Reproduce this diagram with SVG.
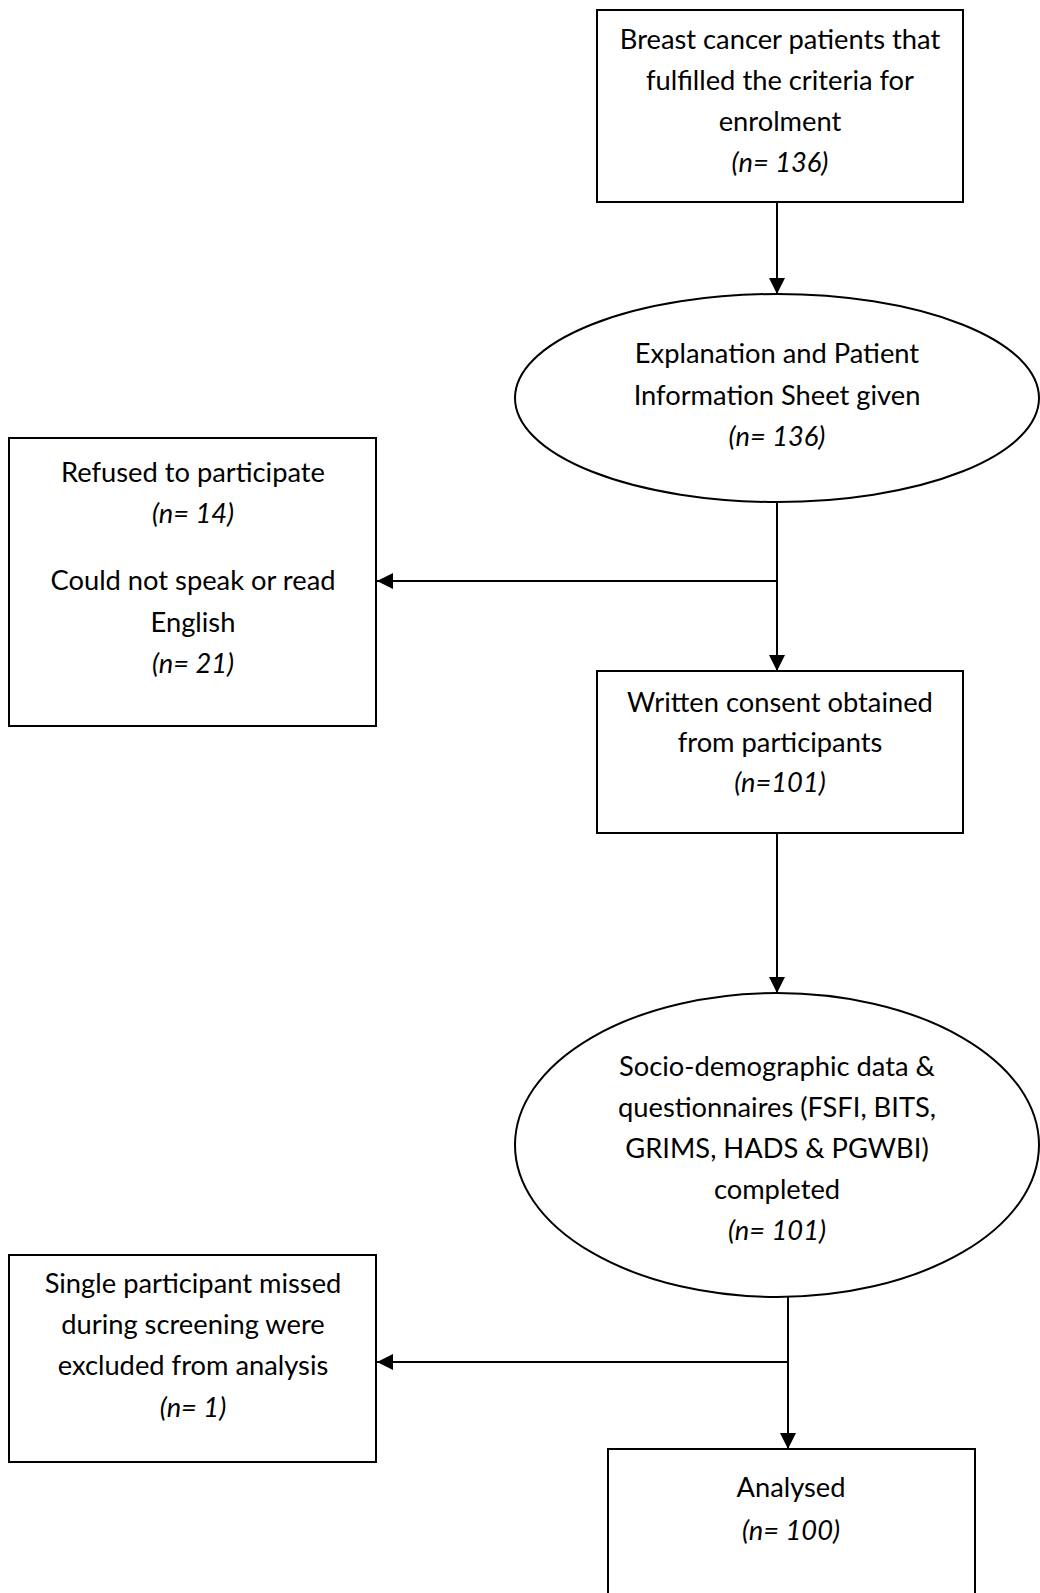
<svg xmlns="http://www.w3.org/2000/svg" width="1040" height="1593" viewBox="0 0 1040 1593">
<style>
.box{fill:#fff;stroke:#000;stroke-width:2}
.t{font-family:Lato,"Open Sans","Liberation Sans",sans-serif;font-size:27.3px;fill:#000;text-anchor:middle}
.i{font-style:italic}
.c{fill:none;stroke:#000;stroke-width:2}
</style>
<defs>
<marker id="ah" markerUnits="userSpaceOnUse" markerWidth="16" markerHeight="16" viewBox="0 0 15 15" refX="15" refY="7.5" orient="auto">
<path d="M0,0 L15,7.5 L0,15 z" fill="#000"/>
</marker>
</defs>
<rect width="1040" height="1593" fill="#fff"/>
<g id="connectors">
<line class="c" x1="777" y1="203" x2="777" y2="294" marker-end="url(#ah)"/>
<line class="c" x1="777" y1="502" x2="777" y2="671" marker-end="url(#ah)"/>
<line class="c" x1="777" y1="581" x2="377" y2="581" marker-end="url(#ah)"/>
<line class="c" x1="777" y1="834" x2="777" y2="993" marker-end="url(#ah)"/>
<line class="c" x1="788" y1="1297" x2="788" y2="1449" marker-end="url(#ah)"/>
<line class="c" x1="788" y1="1362" x2="377" y2="1362" marker-end="url(#ah)"/>
</g>
<g id="n1">
<rect class="box" x="597" y="10" width="366" height="192"/>
<text class="t" x="780" y="49">Breast cancer patients that</text>
<text class="t" x="780" y="90">fulfilled the criteria for</text>
<text class="t" x="780" y="131">enrolment</text>
<text class="t i" x="780" y="172">(n= 136)</text>
</g>
<g id="n2">
<ellipse class="box" cx="777" cy="398" rx="262" ry="104"/>
<text class="t" x="777" y="363">Explanation and Patient</text>
<text class="t" x="777" y="405">Information Sheet given</text>
<text class="t i" x="777" y="446">(n= 136)</text>
</g>
<g id="n3">
<rect class="box" x="9" y="438" width="367" height="288"/>
<text class="t" x="193" y="482">Refused to participate</text>
<text class="t i" x="193" y="523">(n= 14)</text>
<text class="t" x="193" y="590">Could not speak or read</text>
<text class="t" x="193" y="632">English</text>
<text class="t i" x="193" y="673">(n= 21)</text>
</g>
<g id="n4">
<rect class="box" x="597" y="671" width="366" height="162"/>
<text class="t" x="780" y="712">Written consent obtained</text>
<text class="t" x="780" y="752">from participants</text>
<text class="t i" x="780" y="792">(n=101)</text>
</g>
<g id="n5">
<ellipse class="box" cx="777" cy="1145" rx="262" ry="152"/>
<text class="t" x="777" y="1076">Socio-demographic data &amp;</text>
<text class="t" x="777" y="1117">questionnaires (FSFI, BITS,</text>
<text class="t" x="777" y="1158">GRIMS, HADS &amp; PGWBI)</text>
<text class="t" x="777" y="1199">completed</text>
<text class="t i" x="777" y="1240">(n= 101)</text>
</g>
<g id="n6">
<rect class="box" x="9" y="1255" width="367" height="207"/>
<text class="t" x="193" y="1293">Single participant missed</text>
<text class="t" x="193" y="1334">during screening were</text>
<text class="t" x="193" y="1375">excluded from analysis</text>
<text class="t i" x="193" y="1417">(n= 1)</text>
</g>
<g id="n7">
<rect class="box" x="608" y="1449" width="367" height="160"/>
<text class="t" x="791" y="1497">Analysed</text>
<text class="t i" x="791" y="1540">(n= 100)</text>
</g>
</svg>
